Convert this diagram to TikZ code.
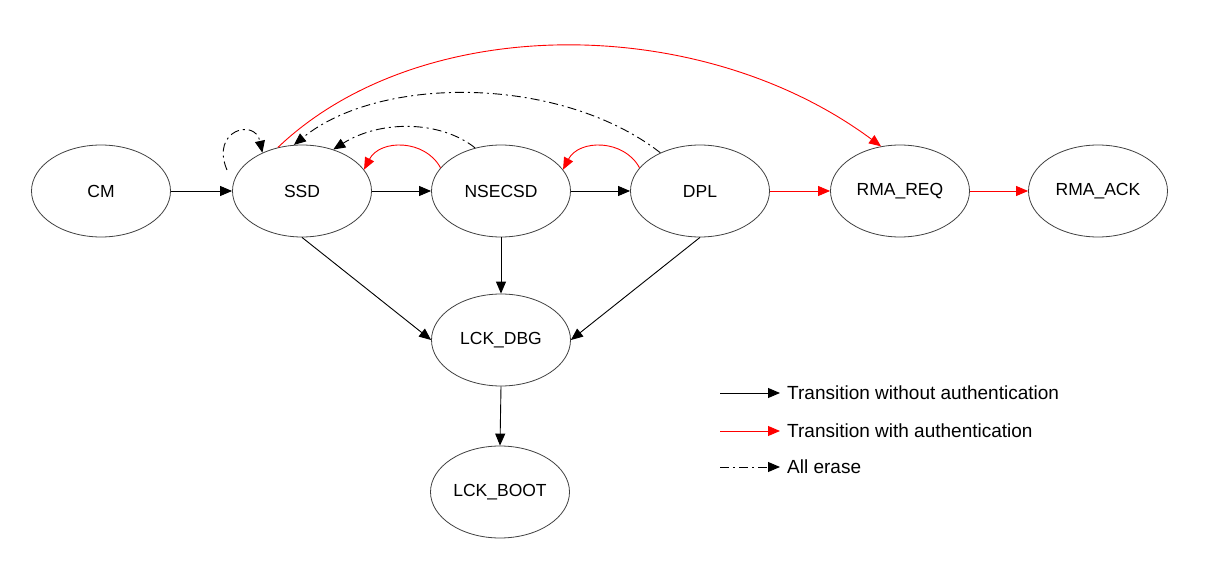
\documentclass[tikz,border=0pt]{standalone}
\usepackage{fontspec}
\setmainfont{Liberation Sans}
\usetikzlibrary{shapes.geometric,arrows.meta}
\begin{document}
\begin{tikzpicture}[x=1pt,y=-1pt,
  st/.style={ellipse,draw=black!75,line width=0.8pt,minimum width=139pt,minimum height=92pt,inner sep=0pt,font=\fontsize{17.5}{20}\selectfont},
  tip/.style={-{Triangle[length=12pt,width=10pt]}},
  blk/.style={tip,line width=0.9pt,black},
  auth/.style={tip,line width=0.9pt,red},
  erase/.style={tip,line width=0.9pt,black,dash pattern=on 9pt off 4pt on 2pt off 4pt},
  leg/.style={anchor=west,inner sep=0pt,font=\fontsize{19}{22}\selectfont}]
\path[use as bounding box] (0,0) rectangle (1226,569);
\node[st] (CM) at (101,191) {CM};
\node[st] (SSD) at (302,191) {SSD};
\node[st] (NSE) at (501,191) {NSECSD};
\node[st] (DPL) at (700,191) {DPL};
\node[st] (REQ) at (900,191) {RMA\_REQ};
\node[st] (ACK) at (1098,191) {RMA\_ACK};
\node[st] (DBG) at (501,340) {LCK\_DBG};
\node[st] (BOOT) at (500,492) {LCK\_BOOT};
% straight transitions
\draw[blk] (CM.east) -- (SSD.west);
\draw[blk] (SSD.east) -- (NSE.west);
\draw[blk] (NSE.east) -- (DPL.west);
\draw[auth] (DPL.east) -- (REQ.west);
\draw[auth] (REQ.east) -- (ACK.west);
\draw[blk] (SSD.south) -- (DBG.west);
\draw[blk] (NSE.south) -- (DBG.north);
\draw[blk] (DPL.south) -- (DBG.east);
\draw[blk] (DBG.south) -- (BOOT.north);
% curved transitions
\draw[auth] (SSD.119) .. controls (420,12) and (700,12) .. (REQ.113);
\draw[auth] (NSE.159) .. controls (425,139) and (380,139) .. (SSD.19);
\draw[auth] (DPL.159) .. controls (624,139) and (579,139) .. (NSE.19);
\draw[erase] (DPL.136) .. controls (560,75) and (380,75) .. (SSD.100);
\draw[erase] (NSE.121) .. controls (440,120) and (380,120) .. (SSD.53);
\coordinate (loopS) at (227,170);
\draw[erase] (loopS) .. controls (210,130) and (255,118) .. (SSD.136);
% legend
\coordinate (l1a) at (720,393); \coordinate (l1b) at (780,393);
\coordinate (l2a) at (720,431); \coordinate (l2b) at (780,431);
\coordinate (l3a) at (720,467); \coordinate (l3b) at (780,467);
\draw[blk] (l1a) -- (l1b);
\draw[auth] (l2a) -- (l2b);
\draw[erase] (l3a) -- (l3b);
\node[leg] (t1) at (787,393) {Transition without authentication};
\node[leg] (t2) at (787,431) {Transition with authentication};
\node[leg] (t3) at (787,467) {All erase};
\end{tikzpicture}
\end{document}
